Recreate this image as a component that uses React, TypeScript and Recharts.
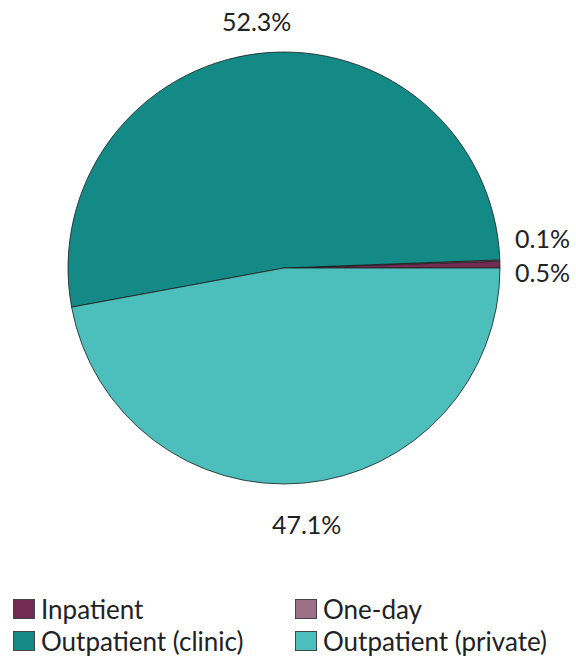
import React from 'react';
import { PieChart, Pie, Cell, Legend } from 'recharts';

const categories = ['Inpatient', 'One-day', 'Outpatient (clinic)', 'Outpatient (private)'];
const shares = [0.5, 0.1, 52.3, 47.1];
const colors = ['#722B52', '#9C7086', '#148A87', '#4CBFBD'];

const data = categories.map((name, i) => ({ name, value: shares[i] }));

const FONT = 'Lato, "Open Sans", sans-serif';
const RAD = Math.PI / 180;

const renderLabel = (props: any) => {
  const { cx, cy, midAngle, outerRadius, value, index } = props;
  const text = `${value.toFixed(1)}%`;
  if (value < 1) {
    // tiny slices: stack labels beside the pie edge
    const x = cx + outerRadius + 15;
    const y = cy + (index === 0 ? 4 : -30);
    return (
      <text x={x} y={y} fill="#222" fontSize={25} fontFamily={FONT} textAnchor="start" dominantBaseline="central">
        {text}
      </text>
    );
  }
  const r = outerRadius + 33;
  const sin = Math.sin(-midAngle * RAD);
  const x = cx + r * Math.cos(-midAngle * RAD);
  const y = cy + r * sin + (sin > 0 ? 8 : 0);
  return (
    <text x={x} y={y} fill="#222" fontSize={25} fontFamily={FONT} textAnchor="middle" dominantBaseline="central">
      {text}
    </text>
  );
};

const LegendGrid = () => (
  <div
    style={{
      display: 'grid',
      gridTemplateColumns: '282px 280px',
      rowHeight: 32,
      gridAutoRows: '32px',
      paddingLeft: 13,
      fontFamily: FONT,
      fontSize: 26,
      color: '#222',
    } as React.CSSProperties}
  >
    {categories.map((c, i) => (
      <div key={c} style={{ display: 'flex', alignItems: 'center', gap: 6 }}>
        <div
          style={{
            width: 22,
            height: 20,
            background: colors[i],
            border: '1px solid #444',
            boxSizing: 'border-box',
            flexShrink: 0,
          }}
        />
        <span style={{ lineHeight: '32px' }}>{c}</span>
      </div>
    ))}
  </div>
);

export default function App() {
  return (
    <div style={{ width: 576, height: 659, background: '#fff' }}>
      <style>{`body{margin:0}`}</style>
      <PieChart width={576} height={659} margin={{ top: 0, right: 0, bottom: 0, left: 0 }}>
        <Pie
          data={data}
          dataKey="value"
          nameKey="name"
          cx={284}
          cy={268}
          outerRadius={216}
          startAngle={0}
          endAngle={360}
          stroke="#1e1e1e"
          strokeWidth={0.8}
          label={renderLabel}
          labelLine={false}
          isAnimationActive={false}
        >
          {data.map((d, i) => (
            <Cell key={d.name} fill={colors[i]} />
          ))}
        </Pie>
        <Legend
          content={() => <LegendGrid />}
          wrapperStyle={{ position: 'absolute', top: 593, left: 0, width: 576 }}
        />
      </PieChart>
    </div>
  );
}
